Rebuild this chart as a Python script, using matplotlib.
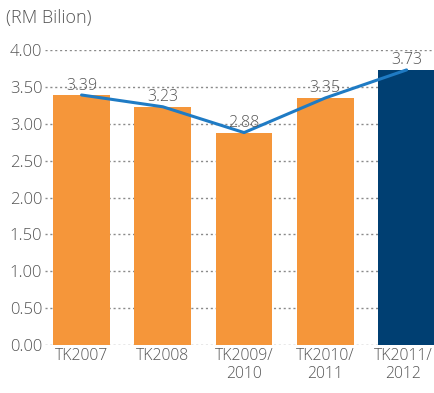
import matplotlib
matplotlib.use("Agg")
import matplotlib.pyplot as plt
import matplotlib.transforms as mtransforms

categories = ["TK2007", "TK2008", "TK2009/\n2010", "TK2010/\n2011", "TK2011/\n2012"]
values = [3.39, 3.23, 2.88, 3.35, 3.73]
bar_colors = ["#F5963A", "#F5963A", "#F5963A", "#F5963A", "#003F72"]
yticks = [0.0, 0.5, 1.0, 1.5, 2.0, 2.5, 3.0, 3.5, 4.0]

plt.rcParams["font.family"] = ["Open Sans", "DejaVu Sans"]
text_color = "#555555"

fig = plt.figure(figsize=(4.35, 3.93), dpi=100)
ax = fig.add_axes([45 / 435, 48 / 393, 390 / 435, 295 / 393])

x = list(range(len(categories)))
ax.bar(x, values, width=0.70, color=bar_colors, zorder=2)
ax.plot(x, values, color="#1F7BC4", linewidth=2.2, zorder=3, solid_capstyle="round")

for xi, v in zip(x, values):
    ax.text(xi, v + 0.02, f"{v:.2f}", ha="center", va="bottom",
            fontsize=11.5, color=text_color, fontweight="light", zorder=4)

ax.set_xlim(-0.45, 4.35)
ax.set_ylim(0, 4.0)
ax.set_yticks(yticks)
ax.set_yticklabels([f"{t:.2f}" for t in yticks])
ax.set_xticks(x)
ax.set_xticklabels(categories, linespacing=1.15)

ax.grid(axis="y", linestyle=(0, (1.5, 2)), color="#8a8a8a", linewidth=1.0, zorder=1)
for s in ax.spines.values():
    s.set_visible(False)
ax.tick_params(axis="y", length=0, labelsize=12, labelcolor=text_color, pad=2)
ax.tick_params(axis="x", length=0, labelsize=11.3, labelcolor=text_color, pad=2)
for lbl in ax.get_xticklabels() + ax.get_yticklabels():
    lbl.set_fontweight("light")

# keep the last category label inside the figure edge
last = ax.get_xticklabels()[-1]
last.set_transform(last.get_transform() +
                   mtransforms.ScaledTranslation(-3 / 100, 0, fig.dpi_scale_trans))

fig.text(6 / 435, 1 - 18 / 393, "(RM Bilion)", ha="left", va="center",
         fontsize=13, color=text_color, fontweight="light")

fig.savefig("out.png", dpi=100)
